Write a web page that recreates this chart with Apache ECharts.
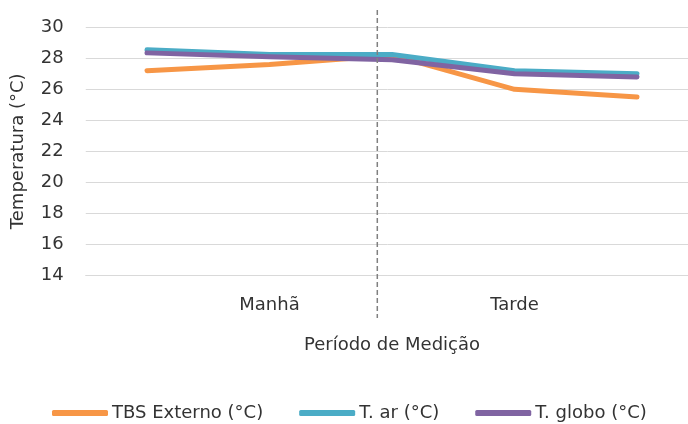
<!DOCTYPE html>
<html>
<head>
<meta charset="utf-8">
<script src="https://cdn.jsdelivr.net/npm/echarts@6/dist/echarts.min.js"></script>
<style>
  html, body { margin: 0; padding: 0; background: #fff; }
  #chart { width: 688px; height: 424px; }
</style>
</head>
<body>
<div id="chart"></div>
<script>
// Measurement times; only the two period names are labelled
const categories = ['', 'Manhã', '', 'Tarde', ''];
const tbsExterno = [27.2, 27.6, 28.2, 26.0, 25.5];
const tAr = [28.55, 28.25, 28.25, 27.2, 27.0];
const tGlobo = [28.35, 28.1, 27.9, 27.0, 26.8];
const yTicks = { min: 14, max: 30, interval: 2 };
// Morning / afternoon divider, as a fractional category index
const periodSplit = 1.88;

const FONT = 'DejaVu Sans';
const TEXT = '#333333';

const chart = echarts.init(document.getElementById('chart'), null, { renderer: 'canvas' });

function lineSeries(name, data, color) {
  return {
    name, type: 'line', data,
    symbol: 'none',
    lineStyle: { width: 5, color, cap: 'round', join: 'round' },
    itemStyle: { color },
    animation: false
  };
}

chart.setOption({
  animation: false,
  textStyle: { fontFamily: FONT },
  // the plot runs slightly past the right edge of the canvas
  grid: {
    left: 85.75, width: 612.5, top: 27.3, bottom: 148.7,
    containLabel: false, outerBoundsMode: 'none'
  },
  xAxis: {
    type: 'category',
    data: categories,
    boundaryGap: true,
    axisLine: { show: true, lineStyle: { color: '#d9d9d9', width: 1 } },
    axisTick: { show: false },
    axisLabel: { color: TEXT, fontSize: 18, fontFamily: FONT, margin: 21, interval: 0 },
    name: 'Período de Medição',
    nameLocation: 'middle',
    nameGap: 61,
    nameTextStyle: { color: TEXT, fontSize: 18, fontFamily: FONT }
  },
  yAxis: {
    type: 'value',
    min: yTicks.min, max: yTicks.max, interval: yTicks.interval,
    axisLine: { show: false },
    axisTick: { show: false },
    splitLine: { lineStyle: { color: '#d9d9d9', width: 1 } },
    axisLabel: { color: TEXT, fontSize: 18, fontFamily: FONT, margin: 22 },
    name: 'Temperatura (°C)',
    nameLocation: 'middle',
    nameGap: 58,
    nameRotate: 90,
    nameTextStyle: { color: TEXT, fontSize: 18, fontFamily: FONT }
  },
  legend: {
    top: 399,
    left: 47,
    itemWidth: 56,
    itemHeight: 6,
    itemGap: 36,
    icon: 'roundRect',
    textStyle: { color: TEXT, fontSize: 18, fontFamily: FONT, padding: [0, 0, 0, -1] },
    data: ['TBS Externo (°C)', 'T. ar (°C)', 'T. globo (°C)']
  },
  series: [
    lineSeries('TBS Externo (°C)', tbsExterno, '#F79646'),
    lineSeries('T. ar (°C)', tAr, '#4BACC6'),
    lineSeries('T. globo (°C)', tGlobo, '#8064A2')
  ]
});

// Vertical dashed divider between the two periods
const x0 = chart.convertToPixel({ xAxisIndex: 0 }, Math.floor(periodSplit));
const x1 = chart.convertToPixel({ xAxisIndex: 0 }, Math.floor(periodSplit) + 1);
const xs = x0 + (x1 - x0) * (periodSplit - Math.floor(periodSplit));
chart.setOption({
  graphic: [{
    type: 'line',
    shape: { x1: xs, y1: 10, x2: xs, y2: 318 },
    style: { stroke: '#808080', lineWidth: 1.5, lineDash: [5, 3] },
    z: 10
  }]
});
</script>
</body>
</html>
